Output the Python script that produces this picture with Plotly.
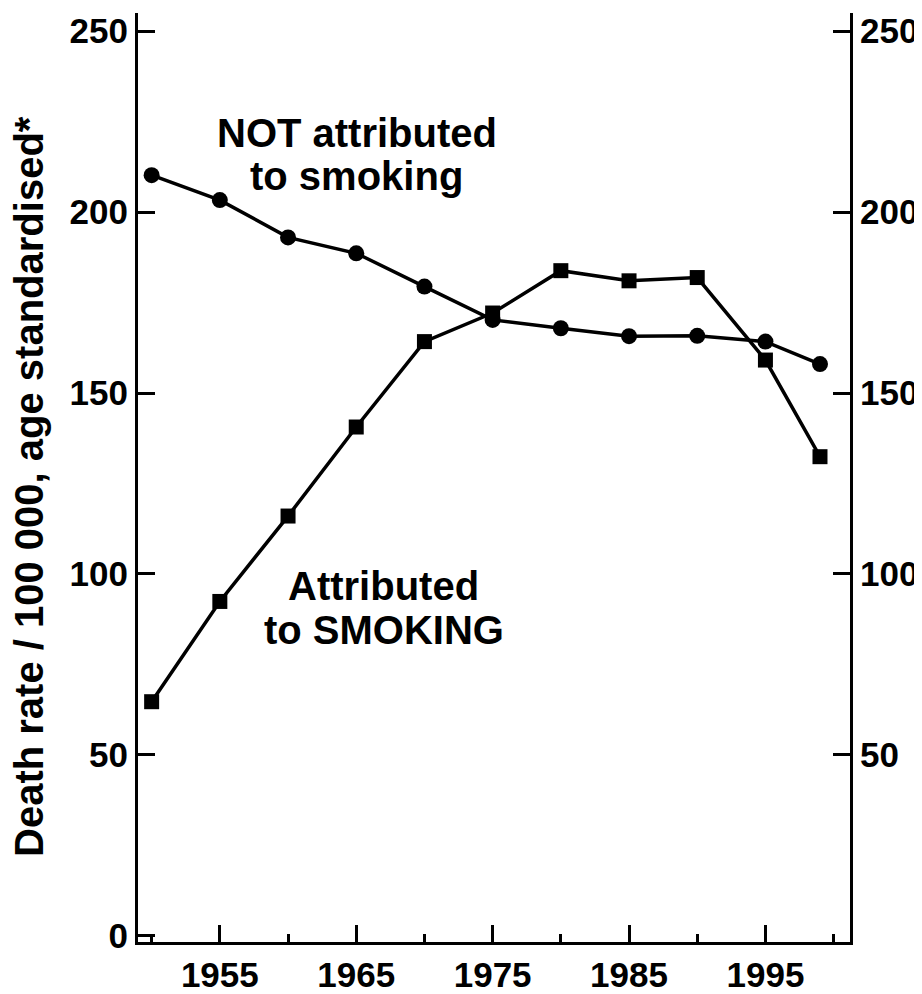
import plotly.graph_objects as go

years = [1950, 1955, 1960, 1965, 1970, 1975, 1980, 1985, 1990, 1995, 1999]
not_smoking = [210.2, 203.3, 193.0, 188.6, 179.4, 170.2, 167.9, 165.7, 165.8, 164.2, 158.0]
smoking = [64.7, 92.4, 116.0, 140.6, 164.2, 172.1, 183.8, 181.0, 181.9, 159.1, 132.4]
x_major = [1955, 1965, 1975, 1985, 1995]
x_minor = [1950, 1960, 1970, 1980, 1990, 2000]
y_ticks = [0, 50, 100, 150, 200, 250]
y_title = "Death rate / 100 000, age standardised*"

FONT = "Liberation Sans, Arial, sans-serif"
fig = go.Figure()
fig.add_trace(go.Scatter(x=years, y=not_smoking, mode="lines+markers",
                         line=dict(color="black", width=3.5),
                         marker=dict(symbol="circle", size=16, color="black"),
                         showlegend=False))
fig.add_trace(go.Scatter(x=years, y=smoking, mode="lines+markers",
                         line=dict(color="black", width=3.5),
                         marker=dict(symbol="square", size=15, color="black"),
                         showlegend=False))
fig.add_trace(go.Scatter(x=[years[0]], y=[smoking[0]], yaxis="y2", mode="markers",
                         marker=dict(opacity=0), showlegend=False, hoverinfo="skip"))

tickfont = dict(family=FONT, size=35, color="black", weight="bold")
fig.update_layout(
    width=914, height=986,
    margin=dict(l=130, r=72, t=5, b=52, autoexpand=False),
    paper_bgcolor="white", plot_bgcolor="white",
    xaxis=dict(range=[1949.0, 2001.2], tickvals=x_major, ticks="inside", ticklen=17,
               tickwidth=3, tickcolor="black", showline=True, linecolor="black", linewidth=3,
               showgrid=False, zeroline=False, tickfont=tickfont, automargin=False,
               minor=dict(tickvals=x_minor, ticks="inside", ticklen=8, tickwidth=3,
                          tickcolor="black", showgrid=False)),
    yaxis=dict(range=[-1.7, 255], tickvals=y_ticks, ticks="inside", ticklen=17, tickwidth=3,
               tickcolor="black", showline=True, linecolor="black", linewidth=3,
               showgrid=False, zeroline=False, tickfont=tickfont, automargin=False),
    yaxis2=dict(range=[-1.7, 255], tickvals=y_ticks[1:], overlaying="y", side="right",
                ticks="inside", ticklen=17, tickwidth=3, tickcolor="black", showline=True,
                linecolor="black", linewidth=3, showgrid=False, zeroline=False,
                tickfont=tickfont, automargin=False),
)
fig.add_annotation(xref="paper", yref="paper", x=(21 - 130) / 712, y=0.4898,
                   text=y_title, textangle=-90, showarrow=False,
                   font=dict(family=FONT, size=40, color="black", weight="bold"),
                   xanchor="center", yanchor="middle")
annfont = dict(family=FONT, size=40, color="black", weight="bold")
for txt, xv, yv in [("NOT attributed", 1965.05, 221.9), ("to smoking", 1965.05, 210.0),
                    ("Attributed", 1967.0, 96.6), ("to SMOKING", 1967.0, 84.6)]:
    fig.add_annotation(x=xv, y=yv, text=txt, showarrow=False, font=annfont, align="center")
fig.write_html("out.html")
